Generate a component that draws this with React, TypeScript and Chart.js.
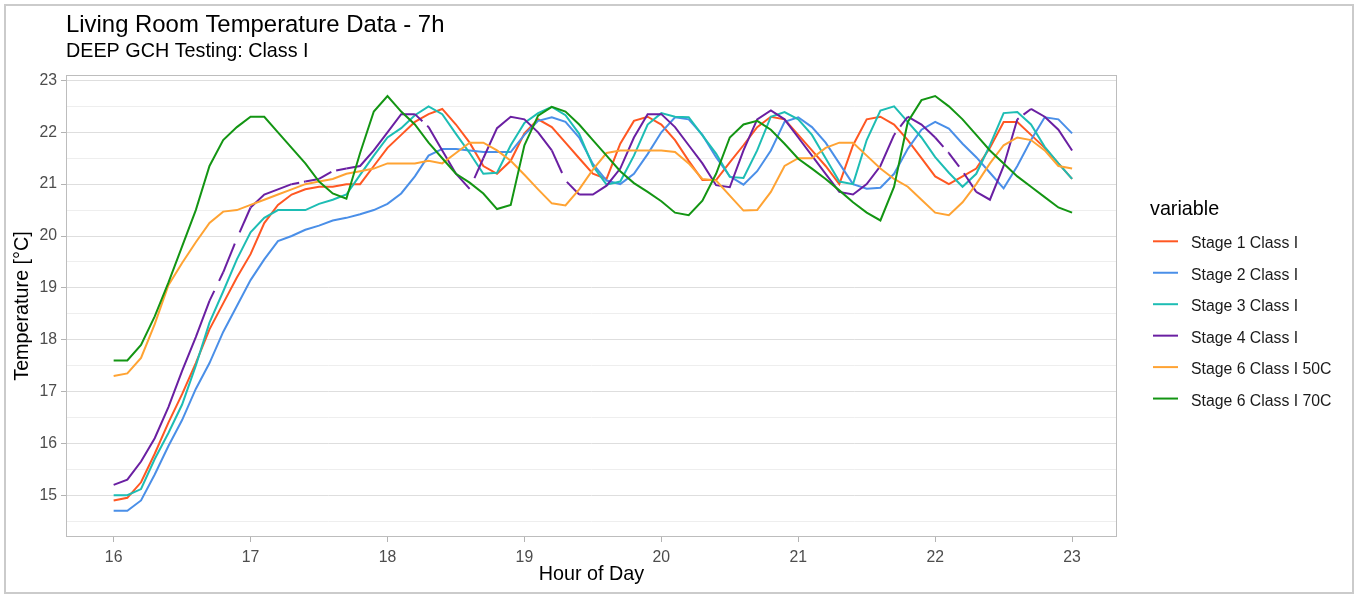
import { useEffect, useRef } from 'react';
import { Chart, registerables } from 'chart.js';

Chart.register(...registerables);

const FONT = '"Liberation Sans", Arial, sans-serif';

const TITLE = 'Living Room Temperature Data - 7h';
const SUBTITLE = 'DEEP GCH Testing: Class I';
const X_TITLE = 'Hour of Day';
const Y_TITLE = 'Temperature [°C]';
const LEGEND_TITLE = 'variable';

// Sample times, every 6 minutes from 16:00 to 23:00 (in hours)
const HOURS = Array.from({ length: 71 }, (_, i) => Math.round((16 + i * 0.1) * 10) / 10);

const X_TICKS = [16, 17, 18, 19, 20, 21, 22, 23];
const Y_TICKS = [15, 16, 17, 18, 19, 20, 21, 22, 23];

const STAGE1 = [
  14.9, 14.95, 15.25, 15.8, 16.4, 16.95, 17.55, 18.2, 18.7, 19.2,
  19.65, 20.25, 20.6, 20.8, 20.9, 20.95, 20.95, 21.0, 21.0, 21.35,
  21.7, 21.95, 22.2, 22.35, 22.45, 22.15, 21.8, 21.35, 21.2, 21.45,
  21.98, 22.25, 22.1, 21.8, 21.5, 21.2, 21.1, 21.78, 22.22, 22.3,
  22.15, 21.85, 21.45, 21.08, 21.08, 21.42, 21.75, 22.1, 22.3, 22.25,
  21.95, 21.65, 21.35, 21.0, 21.75, 22.25, 22.3, 22.15, 21.85, 21.5,
  21.15, 21.0, 21.15, 21.3, 21.7, 22.2, 22.2, 21.95, 21.7, 21.4,
  21.1,
];

const STAGE2 = [
  14.7, 14.7, 14.9, 15.4, 15.95, 16.45, 17.05, 17.55, 18.15, 18.65,
  19.15, 19.55, 19.9, 20.0, 20.12, 20.2, 20.3, 20.35, 20.42, 20.5,
  20.62, 20.82, 21.15, 21.55, 21.68, 21.68, 21.65, 21.62, 21.62, 21.62,
  21.95, 22.22, 22.29, 22.2, 21.9, 21.39, 21.07, 21.0, 21.2, 21.58,
  22.0, 22.29, 22.25, 21.95, 21.52, 21.15, 20.99, 21.25, 21.65, 22.2,
  22.29, 22.1, 21.8, 21.4, 21.0, 20.91, 20.93, 21.2, 21.68, 22.05,
  22.2, 22.07, 21.78, 21.52, 21.22, 20.92, 21.35, 21.85, 22.29, 22.25,
  21.98,
];

const STAGE3 = [
  15.0, 15.0, 15.12, 15.7, 16.2, 16.75, 17.5, 18.33, 18.93, 19.55,
  20.07, 20.35, 20.5, 20.5, 20.5, 20.62, 20.7, 20.8, 21.18, 21.55,
  21.9, 22.08, 22.33, 22.5, 22.35, 21.97, 21.6, 21.2, 21.22, 21.75,
  22.18, 22.37, 22.49, 22.33, 21.97, 21.35, 20.99, 21.05, 21.55, 22.15,
  22.37, 22.3, 22.29, 21.94, 21.59, 21.14, 21.12, 21.65, 22.3, 22.39,
  22.25, 21.95, 21.5, 21.05, 21.0, 21.85, 22.42, 22.5, 22.2, 21.9,
  21.52, 21.22, 20.95, 21.2, 21.75, 22.37, 22.39, 22.15, 21.72, 21.4,
  21.1,
];

const STAGE4 = [
  15.2, 15.3, 15.65, 16.1, 16.7, 17.4, 18.05, 18.75, 19.3, 19.95,
  20.55, 20.8, 20.9, 21.0, 21.05, 21.1, 21.25, 21.3, 21.35, 21.65,
  22.0, 22.35, 22.35, 22.1, 21.65, 21.2, 20.91, 21.5, 22.08, 22.3,
  22.25, 22.0, 21.65, 21.07, 20.8, 20.8, 20.97, 21.3, 21.9, 22.35,
  22.35, 22.1, 21.75, 21.4, 20.98, 20.94, 21.65, 22.25, 22.42, 22.25,
  21.9, 21.55, 21.2, 20.85, 20.8, 21.0, 21.35, 21.95, 22.3, 22.15,
  21.9, 21.6, 21.25, 20.85, 20.7, 21.35, 22.25, 22.45, 22.3, 22.05,
  21.65,
];

// Start times of the short dropouts in the stage 4 logger
const STAGE4_GAPS = [16.735, 16.885, 17.355, 17.59, 18.255, 18.6, 19.275, 21.71, 22.06, 22.175, 22.61];
const GAP_LENGTH_H = 0.035;

const STAGE6_50C = [
  17.3, 17.35, 17.65, 18.3, 19.05, 19.48, 19.88, 20.25, 20.47, 20.5,
  20.6, 20.7, 20.8, 20.9, 21.0, 21.05, 21.1, 21.2, 21.25, 21.3,
  21.4, 21.4, 21.4, 21.45, 21.4, 21.6, 21.8, 21.8, 21.65, 21.45,
  21.18, 20.9, 20.63, 20.59, 20.9, 21.28, 21.6, 21.65, 21.65, 21.65,
  21.65, 21.62, 21.4, 21.1, 21.07, 20.78, 20.49, 20.5, 20.85, 21.35,
  21.5, 21.5, 21.7, 21.8, 21.8, 21.55, 21.3, 21.1, 20.95, 20.7,
  20.45, 20.4, 20.65, 21.0, 21.4, 21.75, 21.9, 21.85, 21.65, 21.35,
  21.3,
];

const STAGE6_70C = [
  17.6, 17.6, 17.9, 18.45, 19.1, 19.8, 20.5, 21.35, 21.85, 22.1,
  22.3, 22.3, 22.0, 21.7, 21.4, 21.05, 20.82, 20.72, 21.6, 22.4,
  22.7, 22.4, 22.15, 21.8, 21.5, 21.2, 21.03, 20.82, 20.52, 20.6,
  21.75, 22.32, 22.49, 22.4, 22.15, 21.85, 21.55, 21.25, 21.02, 20.85,
  20.67, 20.45, 20.4, 20.68, 21.2, 21.9, 22.15, 22.22, 22.05, 21.78,
  21.49, 21.3, 21.1, 20.88, 20.65, 20.45, 20.3, 20.95, 22.2, 22.62,
  22.7, 22.5, 22.25, 21.95, 21.65, 21.4, 21.15, 20.95, 20.75, 20.55,
  20.45,
];

type Series = { label: string; values: number[]; color: string; gaps?: number[] };

const SERIES: Series[] = [
  { label: 'Stage 1 Class I', values: STAGE1, color: '#FF5722' },
  { label: 'Stage 2 Class I', values: STAGE2, color: '#4A8FE8' },
  { label: 'Stage 3 Class I', values: STAGE3, color: '#1DBDB4' },
  { label: 'Stage 4 Class I', values: STAGE4, color: '#6A1FA2', gaps: STAGE4_GAPS },
  { label: 'Stage 6 Class I 50C', values: STAGE6_50C, color: '#FFA333' },
  { label: 'Stage 6 Class I 70C', values: STAGE6_70C, color: '#139513' },
];

// Hide the part of a segment that falls inside a dropout window
const gapDash = (gaps: number[]) => (ctx: any) => {
  const h0 = HOURS[ctx.p0DataIndex];
  const h1 = HOURS[ctx.p1DataIndex];
  for (const g of gaps) {
    const a = Math.max(g, h0);
    const b = Math.min(g + GAP_LENGTH_H, h1);
    if (b > a) {
      const len = Math.hypot(ctx.p1.x - ctx.p0.x, ctx.p1.y - ctx.p0.y);
      const span = h1 - h0;
      return [((a - h0) / span) * len, ((b - a) / span) * len, len + 20];
    }
  }
  return undefined;
};

const decorations = {
  id: 'decorations',
  beforeDraw(chart: any) {
    const { ctx, width, height } = chart;
    ctx.save();
    ctx.fillStyle = '#FFFFFF';
    ctx.fillRect(0, 0, width, height);
    ctx.strokeStyle = '#CBCBCB';
    ctx.lineWidth = 2;
    ctx.strokeRect(5, 5, 1348, 588);
    ctx.fillStyle = '#000000';
    ctx.textAlign = 'left';
    ctx.textBaseline = 'alphabetic';
    ctx.font = `23.9px ${FONT}`;
    ctx.fillText(TITLE, 66, 32);
    ctx.font = `19.75px ${FONT}`;
    ctx.fillText(SUBTITLE, 66, 57);
    ctx.restore();
  },
  afterDatasetsDraw(chart: any) {
    const { ctx, chartArea } = chart;
    const { left, top, right, bottom } = chartArea;
    ctx.save();
    ctx.strokeStyle = '#BDBDBD';
    ctx.lineWidth = 1;
    ctx.strokeRect(left + 0.5, top + 0.5, right - left - 1, bottom - top - 1);
    ctx.restore();
  },
  afterDraw(chart: any) {
    const { ctx } = chart;
    ctx.save();
    ctx.fillStyle = '#000000';
    ctx.textAlign = 'left';
    ctx.textBaseline = 'alphabetic';
    ctx.font = `19.75px ${FONT}`;
    ctx.fillText(LEGEND_TITLE, 1150, 214.5);
    ctx.font = `15.8px ${FONT}`;
    chart.data.datasets.forEach((ds: any, i: number) => {
      const y = 241.3 + i * 31.45;
      ctx.strokeStyle = ds.borderColor;
      ctx.lineWidth = 2;
      ctx.beginPath();
      ctx.moveTo(1153, y);
      ctx.lineTo(1178, y);
      ctx.stroke();
      ctx.fillStyle = '#1A1A1A';
      ctx.fillText(ds.label, 1191, y + 7);
    });
    ctx.restore();
  },
};

export default function App() {
  const canvasRef = useRef<HTMLCanvasElement | null>(null);

  useEffect(() => {
    const canvas = canvasRef.current;
    if (!canvas) return;

    const isMajor = (v: number) => Number.isInteger(v);
    const yGrid = [...Y_TICKS.map((v) => v - 0.5), ...Y_TICKS].sort((a, b) => a - b);

    const chart = new Chart(canvas, {
      type: 'line',
      data: {
        datasets: SERIES.map((s, i) => ({
          label: s.label,
          data: HOURS.map((h, k) => ({ x: h, y: s.values[k] })),
          borderColor: s.color,
          backgroundColor: s.color,
          borderWidth: 2,
          pointRadius: 0,
          pointHoverRadius: 0,
          tension: 0,
          fill: false,
          order: SERIES.length - i,
          segment: s.gaps ? { borderDash: gapDash(s.gaps) } : undefined,
        })),
      },
      options: {
        responsive: false,
        animation: false,
        events: [],
        layout: { padding: { top: 75, right: 242, bottom: 0, left: 0 } },
        plugins: {
          legend: { display: false },
          title: { display: false },
          tooltip: { enabled: false },
        },
        scales: {
          x: {
            type: 'linear',
            min: 15.652,
            max: 23.328,
            afterBuildTicks: (scale: any) => {
              scale.ticks = X_TICKS.map((v) => ({ value: v }));
            },
            afterFit: (scale: any) => {
              scale.height = 57;
            },
            border: { display: false },
            grid: {
              drawOnChartArea: false,
              drawTicks: true,
              tickLength: 5,
              tickColor: '#B3B3B3',
              tickWidth: 1,
            },
            ticks: {
              autoSkip: false,
              maxRotation: 0,
              padding: 6,
              color: '#4D4D4D',
              font: { family: FONT, size: 15.8 },
              callback: (v: any) => String(v),
            },
            title: {
              display: true,
              text: X_TITLE,
              color: '#000000',
              font: { family: FONT, size: 19.75 },
              padding: { top: 0, bottom: 8 },
            },
          },
          y: {
            type: 'linear',
            min: 14.195,
            max: 23.105,
            afterBuildTicks: (scale: any) => {
              scale.ticks = yGrid.map((v) => ({ value: v }));
            },
            afterFit: (scale: any) => {
              scale.width = 66;
            },
            border: { display: false },
            grid: {
              color: (c: any) => (isMajor(c.tick?.value) ? '#DEDEDE' : '#EEEEEE'),
              lineWidth: 1,
              drawTicks: true,
              tickLength: 5,
              tickColor: (c: any) => (isMajor(c.tick?.value) ? '#B3B3B3' : 'rgba(0,0,0,0)'),
              tickWidth: 1,
            },
            ticks: {
              autoSkip: false,
              padding: 4,
              color: '#4D4D4D',
              font: { family: FONT, size: 15.8 },
              callback: (v: any) => (isMajor(Number(v)) ? String(v) : ''),
            },
            title: {
              display: true,
              text: Y_TITLE,
              color: '#000000',
              font: { family: FONT, size: 19.75 },
              padding: { top: 11, bottom: 0 },
            },
          },
        },
      },
      plugins: [decorations],
    } as any);

    return () => chart.destroy();
  }, []);

  return (
    <div style={{ position: 'fixed', left: 0, top: 0, width: 1359, height: 594, background: '#FFFFFF' }}>
      <canvas ref={canvasRef} width={1359} height={594} style={{ display: 'block' }} />
    </div>
  );
}
